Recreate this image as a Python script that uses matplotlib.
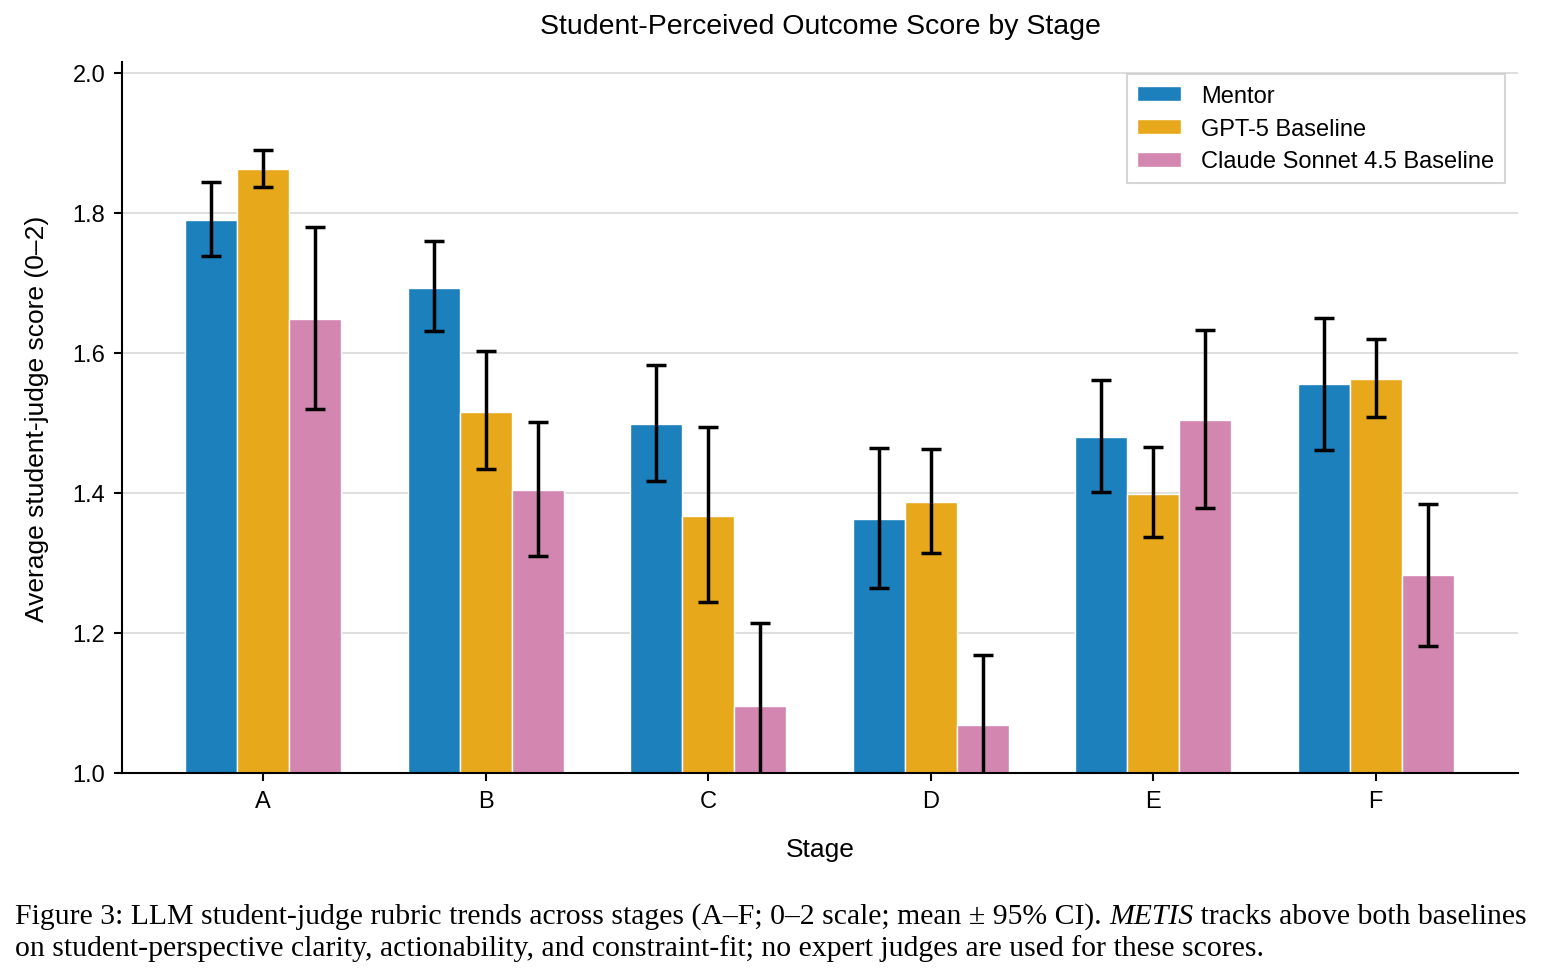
import numpy as np
import matplotlib
matplotlib.use("Agg")
import matplotlib.pyplot as plt

plt.rcParams['font.family'] = ['Liberation Sans', 'DejaVu Sans']

# data (means and 95% CI bounds)
stages = ['A', 'B', 'C', 'D', 'E', 'F']
series = ['Mentor', 'GPT-5 Baseline', 'Claude Sonnet 4.5 Baseline']

mentor_mean = [1.789, 1.693, 1.498, 1.362, 1.479, 1.555]
mentor_lo = [1.738, 1.631, 1.417, 1.264, 1.401, 1.461]
mentor_hi = [1.843, 1.759, 1.582, 1.464, 1.561, 1.649]

gpt_mean = [1.862, 1.515, 1.367, 1.387, 1.399, 1.562]
gpt_lo = [1.837, 1.434, 1.244, 1.314, 1.337, 1.508]
gpt_hi = [1.889, 1.602, 1.494, 1.462, 1.465, 1.619]

claude_mean = [1.648, 1.404, 1.096, 1.068, 1.504, 1.282]
claude_lo = [1.519, 1.310, 0.978, 0.967, 1.379, 1.181]
claude_hi = [1.780, 1.501, 1.214, 1.168, 1.632, 1.384]

colors = ['#1b80bb', '#e7a81c', '#d286b0']

fig = plt.figure(figsize=(15.44, 9.79), dpi=100)
ax = fig.add_axes([122 / 1544, 1 - 774 / 979, (1518 - 122) / 1544, (774 - 63) / 979])

x = np.arange(len(stages))
width = 0.234
means = [mentor_mean, gpt_mean, claude_mean]
los = [mentor_lo, gpt_lo, claude_lo]
his = [mentor_hi, gpt_hi, claude_hi]

for i in range(3):
    m = np.array(means[i])
    yerr = [m - np.array(los[i]), np.array(his[i]) - m]
    ax.bar(x + (i - 1) * width, m, width, color=colors[i], edgecolor='white',
           linewidth=1, label=series[i], zorder=2)
    ax.errorbar(x + (i - 1) * width, m, yerr=yerr, fmt='none', ecolor='black',
                elinewidth=2.5, capsize=7.5, capthick=2.5, zorder=3)

ax.set_ylim(1.0, 2.015)
ax.set_xlim(-0.635, 5.64)
ax.set_xticks(x)
ax.set_xticklabels(stages)
ax.set_yticks([1.0, 1.2, 1.4, 1.6, 1.8, 2.0])
ax.yaxis.grid(True, color='#d9d9d9', linewidth=1.2, zorder=0)
ax.set_axisbelow(True)

ax.spines['top'].set_visible(False)
ax.spines['right'].set_visible(False)
ax.spines['left'].set_linewidth(1.5)
ax.spines['bottom'].set_linewidth(1.5)
ax.tick_params(axis='both', labelsize=17, width=1.5, length=6, pad=6)

ax.set_xlabel('Stage', fontsize=19, labelpad=18)
ax.set_ylabel('Average student-judge score (0\u20132)', fontsize=19, labelpad=17)
ax.set_title('Student-Perceived Outcome Score by Stage', fontsize=20.5, pad=21)

leg = ax.legend(loc='upper right', fontsize=17, frameon=True, fancybox=False,
                edgecolor='#cccccc', handlelength=1.86, handleheight=0.6,
                borderpad=0.45, labelspacing=0.46, handletextpad=0.85,
                borderaxespad=0, bbox_to_anchor=(0.9907, 0.983))
leg.get_frame().set_linewidth(1.5)

# caption, drawn in pieces so METIS can be italic
cap_size = 21.4
serif = ['Liberation Serif', 'DejaVu Serif']
line1 = [("Figure 3: LLM student-judge rubric trends across stages (A\u2013F; 0\u20132 scale; mean \u00b1 95% CI). ", 'normal'),
         ("METIS", 'italic'),
         (" tracks above both baselines", 'normal')]
line2 = "on student-perspective clarity, actionability, and constraint-fit; no expert judges are used for these scores."

renderer = fig.canvas.get_renderer()
xpos = 15
for txt, style in line1:
    t = fig.text(xpos / 1544, 1 - 924 / 979, txt, fontsize=cap_size, style=style,
                 family=serif, va='baseline', ha='left')
    bb = t.get_window_extent(renderer=renderer)
    xpos += bb.width
fig.text(15 / 1544, 1 - 956 / 979, line2, fontsize=cap_size,
         family=serif, va='baseline', ha='left')

fig.savefig('out.png', dpi=100)
